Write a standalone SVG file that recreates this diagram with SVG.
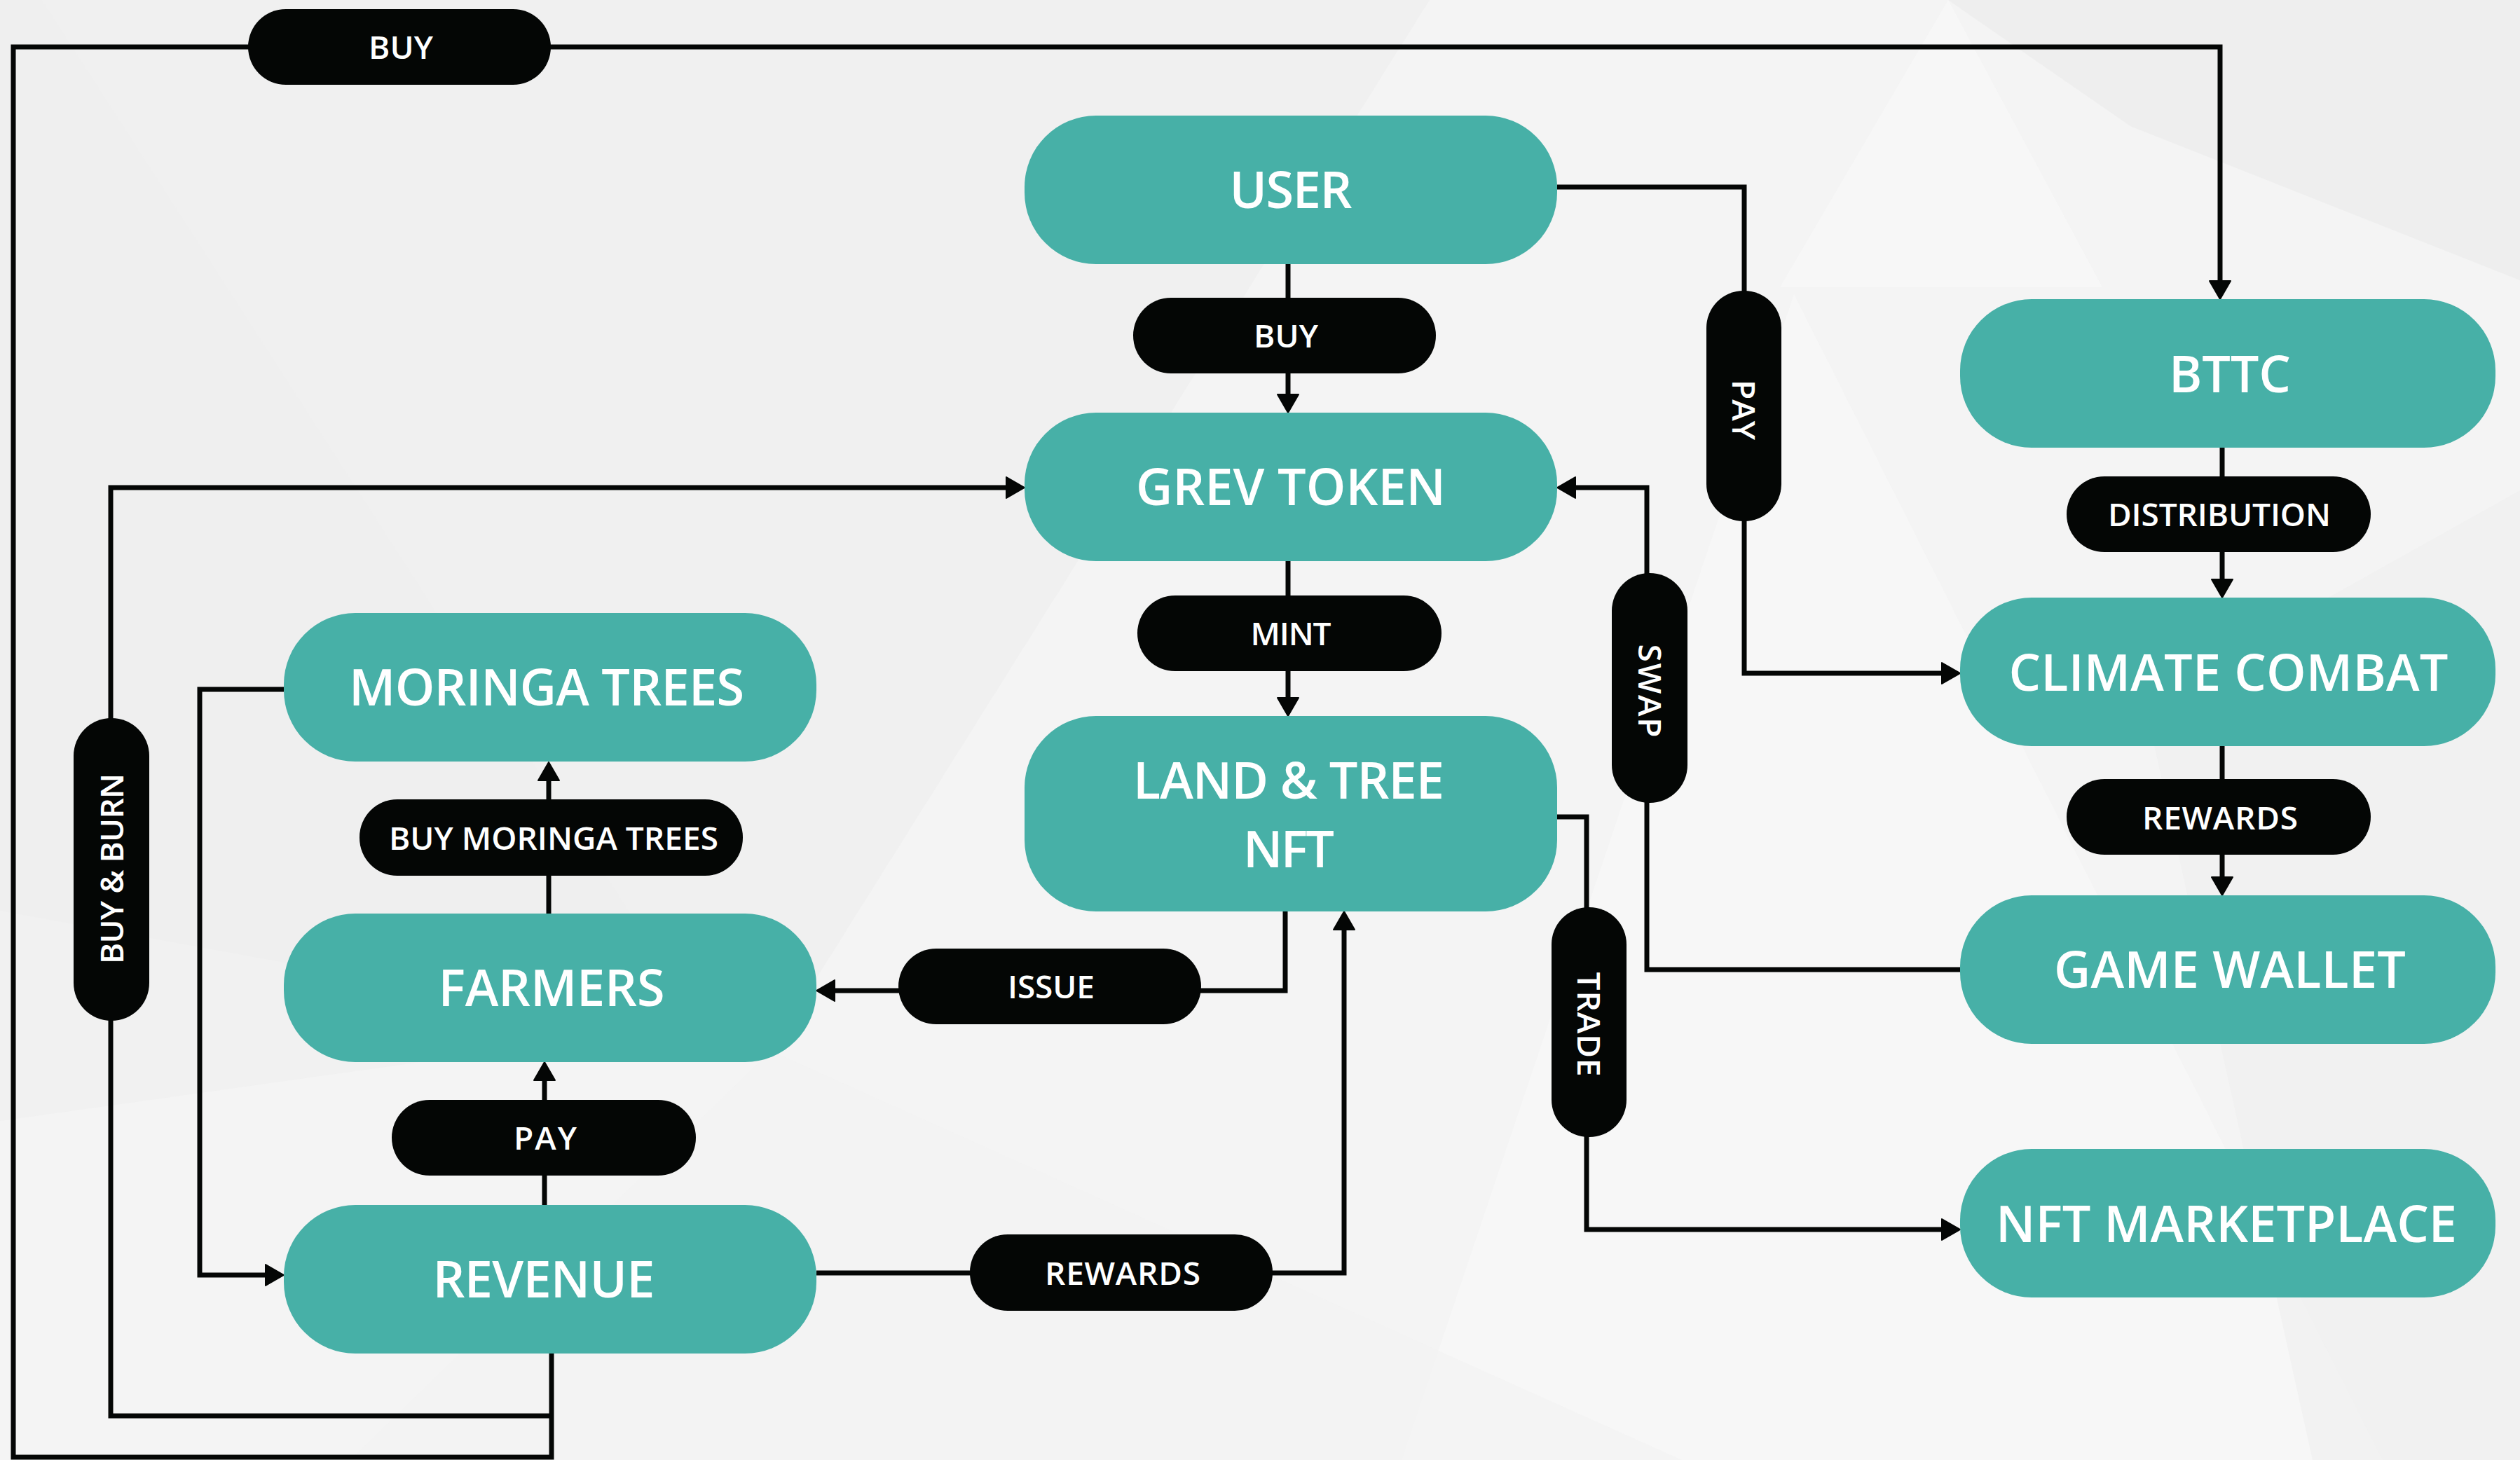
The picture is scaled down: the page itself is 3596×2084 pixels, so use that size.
<svg xmlns="http://www.w3.org/2000/svg" width="3596" height="2084" viewBox="0 0 3596 2084">
<style>
.node{fill:#47b0a7}
.pill{fill:#040605}
.nt{font-family:"Open Sans",Lato,"Liberation Sans",sans-serif;font-size:72px;font-weight:600;fill:#ffffff;text-anchor:middle}
.pt{font-family:"Open Sans",Lato,"Liberation Sans",sans-serif;font-size:46px;font-weight:600;fill:#ffffff;text-anchor:middle}
.c{fill:none;stroke:#040605;stroke-width:7;stroke-linejoin:miter}
.bg{stroke:none}
</style>
<defs>
<marker id="ah" markerUnits="userSpaceOnUse" markerWidth="28" markerHeight="32" viewBox="-1 -1 28 32" refX="14" refY="15" orient="auto">
<path d="M0,0 L26,15 L0,30 Z" fill="#040605" stroke="#040605" stroke-width="2" stroke-linejoin="round"/>
</marker>
</defs>
<g id="background">
<rect x="0" y="0" width="3596" height="2084" fill="#f4f4f4"/>
<polygon class="bg" points="0,0 2040,0 1100,1500 0,1300" fill="#eeeeee" opacity="0.7"/>
<polygon class="bg" points="60,0 1000,1460 0,1600 0,0" fill="#efefef" opacity="0.6"/>
<polygon class="bg" points="2780,0 3596,0 3596,400 3040,180" fill="#ececec" opacity="0.8"/>
<polygon class="bg" points="2540,410 3000,410 2780,0" fill="#f7f7f7" opacity="0.8"/>
<polygon class="bg" points="2560,420 3400,2084 2000,2084" fill="#f8f8f8" opacity="0.7"/>
<polygon class="bg" points="1100,1500 2400,2084 500,2084" fill="#f2f2f2" opacity="0.6"/>
<polygon class="bg" points="3060,1000 3596,700 3596,2084 3300,2084" fill="#efefef" opacity="0.6"/>
</g>
<g id="connectors">
<path class="c" d="M787,1932 V2080 H19 V67 H3168 V415" marker-end="url(#ah)"/>
<path class="c" d="M1838,377 V577" marker-end="url(#ah)"/>
<path class="c" d="M1838,801 V1010" marker-end="url(#ah)"/>
<path class="c" d="M3171,639 V841" marker-end="url(#ah)"/>
<path class="c" d="M3171,1065 V1266" marker-end="url(#ah)"/>
<path class="c" d="M2222,267 H2489 V961 H2785" marker-end="url(#ah)"/>
<path class="c" d="M2797,1384 H2350 V696 H2234" marker-end="url(#ah)"/>
<path class="c" d="M2222,1166 H2264 V1755 H2785" marker-end="url(#ah)"/>
<path class="c" d="M1834,1298 V1414 H1177" marker-end="url(#ah)"/>
<path class="c" d="M1165,1817 H1918 V1313" marker-end="url(#ah)"/>
<path class="c" d="M777,1720 V1528" marker-end="url(#ah)"/>
<path class="c" d="M783,1304 V1100" marker-end="url(#ah)"/>
<path class="c" d="M405,984 H285 V1820 H393" marker-end="url(#ah)"/>
<path class="c" d="M787,2021 H158 V696 H1450" marker-end="url(#ah)"/>
</g>
<g id="node-user"><rect class="node" x="1462" y="165" width="760" height="212" rx="102"/><text class="nt" x="1842" y="297" textLength="175">USER</text></g>
<g id="node-grev"><rect class="node" x="1462" y="589" width="760" height="212" rx="102"/><text class="nt" x="1842" y="721" textLength="442">GREV TOKEN</text></g>
<g id="node-land"><rect class="node" x="1462" y="1022" width="760" height="279" rx="102"/><text class="nt" x="1839" y="1140" textLength="444">LAND &amp; TREE</text><text class="nt" x="1839" y="1238" textLength="130">NFT</text></g>
<g id="node-moringa"><rect class="node" x="405" y="875" width="760" height="212" rx="102"/><text class="nt" x="780" y="1007" textLength="564">MORINGA TREES</text></g>
<g id="node-farmers"><rect class="node" x="405" y="1304" width="760" height="212" rx="102"/><text class="nt" x="787" y="1436" textLength="323">FARMERS</text></g>
<g id="node-revenue"><rect class="node" x="405" y="1720" width="760" height="212" rx="102"/><text class="nt" x="776" y="1852" textLength="317">REVENUE</text></g>
<g id="node-bttc"><rect class="node" x="2797" y="427" width="764" height="212" rx="102"/><text class="nt" x="3182" y="560" textLength="174">BTTC</text></g>
<g id="node-climate"><rect class="node" x="2797" y="853" width="764" height="212" rx="102"/><text class="nt" x="3180" y="986" textLength="627">CLIMATE COMBAT</text></g>
<g id="node-wallet"><rect class="node" x="2797" y="1278" width="764" height="212" rx="102"/><text class="nt" x="3182" y="1410" textLength="502">GAME WALLET</text></g>
<g id="node-market"><rect class="node" x="2797" y="1640" width="764" height="212" rx="102"/><text class="nt" x="3177" y="1773" textLength="658">NFT MARKETPLACE</text></g>
<g id="label-buy-top"><rect class="pill" x="354" y="13" width="432" height="108" rx="54"/><text class="pt" x="572" y="84" textLength="92">BUY</text></g>
<g id="label-buy"><rect class="pill" x="1617" y="425" width="432" height="108" rx="54"/><text class="pt" x="1835" y="496" textLength="92">BUY</text></g>
<g id="label-mint"><rect class="pill" x="1623" y="850" width="434" height="108" rx="54"/><text class="pt" x="1842" y="921" textLength="115">MINT</text></g>
<g id="label-buy-moringa"><rect class="pill" x="513" y="1141" width="547" height="109" rx="54"/><text class="pt" x="790" y="1213" textLength="470">BUY MORINGA TREES</text></g>
<g id="label-distribution"><rect class="pill" x="2949" y="680" width="434" height="108" rx="54"/><text class="pt" x="3167" y="751" textLength="318">DISTRIBUTION</text></g>
<g id="label-rewards-right"><rect class="pill" x="2949" y="1112" width="434" height="108" rx="54"/><text class="pt" x="3168" y="1184" textLength="222">REWARDS</text></g>
<g id="label-issue"><rect class="pill" x="1282" y="1354" width="432" height="108" rx="54"/><text class="pt" x="1500" y="1425" textLength="124">ISSUE</text></g>
<g id="label-pay"><rect class="pill" x="559" y="1570" width="434" height="108" rx="54"/><text class="pt" x="778" y="1641" textLength="90">PAY</text></g>
<g id="label-rewards-bottom"><rect class="pill" x="1384" y="1762" width="432" height="109" rx="54"/><text class="pt" x="1602" y="1834" textLength="222">REWARDS</text></g>
<g id="label-buy-burn"><rect class="pill" x="105" y="1025" width="108" height="432" rx="54"/><text class="pt" x="159" y="1256.5" textLength="272" transform="rotate(-90 159 1240)">BUY &amp; BURN</text></g>
<g id="label-pay-vertical"><rect class="pill" x="2435" y="415" width="107" height="329" rx="53"/><text class="pt" x="2488" y="601.5" textLength="86" transform="rotate(90 2488 585)">PAY</text></g>
<g id="label-swap"><rect class="pill" x="2300" y="818" width="108" height="328" rx="54"/><text class="pt" x="2354" y="1002.5" textLength="133" transform="rotate(90 2354 986)">SWAP</text></g>
<g id="label-trade"><rect class="pill" x="2214" y="1295" width="107" height="328" rx="53"/><text class="pt" x="2267" y="1478.5" textLength="149" transform="rotate(90 2267 1462)">TRADE</text></g>
</svg>
